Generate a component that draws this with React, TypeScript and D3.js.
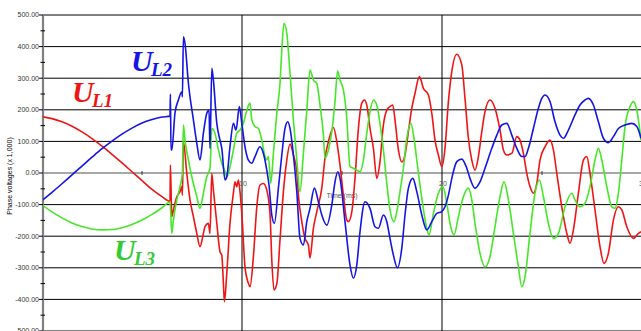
import * as d3 from 'd3';

// time axis (ms) and phase voltages (x 1,000) read from the recording
const tL1 = [0, 0.5, 1, 1.5, 2, 2.5, 3, 3.5, 4, 4.5, 5, 5.5, 6, 6.4, 6.42, 6.49, 6.57, 6.74, 6.9, 6.99, 7.02, 7.07, 7.24, 7.4, 7.57, 7.74, 7.9, 8.07, 8.15, 8.32, 8.4, 8.49, 8.57, 8.74, 8.9, 8.99, 9.07, 9.12, 9.24, 9.4, 9.57, 9.65, 9.74, 9.82, 9.9, 9.99, 10.15, 10.32, 10.4, 10.57, 10.74, 10.9, 11.07, 11.24, 11.4, 11.49, 11.6, 11.74, 11.9, 12.07, 12.24, 12.4, 12.57, 12.74, 12.82, 12.99, 13.15, 13.32, 13.4, 13.57, 13.74, 13.99, 14.15, 14.32, 14.57, 14.74, 14.9, 15.07, 15.24, 15.32, 15.49, 15.65, 15.82, 15.99, 16.12, 16.24, 16.4, 16.57, 16.74, 16.9, 17.07, 17.24, 17.4, 17.54, 17.65, 17.82, 17.99, 18.15, 18.32, 18.49, 18.65, 18.87, 19.07, 19.32, 19.49, 19.65, 19.82, 19.99, 20.15, 20.32, 20.49, 20.74, 20.99, 21.15, 21.32, 21.49, 21.65, 21.82, 21.99, 22.15, 22.4, 22.65, 22.9, 23.07, 23.24, 23.49, 23.74, 23.9, 24.07, 24.24, 24.4, 24.57, 24.74, 24.9, 25.15, 25.4, 25.57, 25.74, 25.99, 26.24, 26.4, 26.57, 26.82, 27.07, 27.24, 27.4, 27.65, 27.9, 28.1, 28.32, 28.57, 28.82, 28.99, 29.24, 29.57, 29.82, 29.95];
const uL1 = [178, 172, 162, 148, 130, 109, 85, 59, 32, 4, -24, -52, -75, -90, 25, -138, -117, -75, -59, -43, -70, 99, -1, -85, -138, -191, -233, -191, -170, -159, -191, -1, -54, -159, -249, -260, -349, -407, -317, -159, -64, -28, -43, -22, -59, -128, -297, -349, -360, -265, -107, -38, -33, -54, -128, -275, -370, -351, -212, -59, 41, 92, 57, 4, -70, -154, -207, -228, -269, -175, -122, -48, 47, 99, 144, 99, 25, -70, -149, -154, -123, -17, 141, 221, 231, 215, 141, 78, -17, 36, 152, 199, 210, 215, 168, 73, 35, 57, 131, 205, 252, 305, 268, 247, 189, 104, 57, 20, 78, 226, 321, 376, 342, 236, 110, 41, 9, 52, 131, 194, 231, 205, 136, 73, 57, 62, 115, 104, 62, -1, -43, -64, -33, 41, 83, 104, 73, -1, -107, -191, -222, -180, -64, 41, 52, -1, -117, -233, -286, -254, -149, -107, -117, -170, -207, -191, -186];

const tL2 = [0, 0.5, 1, 1.5, 2, 2.5, 3, 3.5, 4, 4.5, 5, 5.5, 6, 6.4, 6.42, 6.45, 6.49, 6.65, 6.82, 6.99, 7.02, 7.07, 7.15, 7.32, 7.57, 7.74, 7.9, 8.07, 8.24, 8.35, 8.4, 8.49, 8.57, 8.74, 8.9, 8.99, 9.15, 9.24, 9.4, 9.57, 9.7, 9.87, 9.99, 10.15, 10.32, 10.49, 10.65, 10.9, 11.07, 11.24, 11.35, 11.49, 11.62, 11.82, 11.99, 12.15, 12.29, 12.4, 12.57, 12.74, 12.9, 13.07, 13.24, 13.4, 13.62, 13.82, 13.99, 14.24, 14.49, 14.65, 14.79, 14.9, 15.15, 15.4, 15.57, 15.74, 15.9, 16.15, 16.4, 16.65, 16.82, 17.07, 17.24, 17.4, 17.57, 17.77, 17.99, 18.15, 18.32, 18.54, 18.74, 18.99, 19.24, 19.49, 19.74, 19.99, 20.15, 20.32, 20.49, 20.74, 20.99, 21.24, 21.4, 21.65, 21.9, 22.15, 22.49, 22.74, 22.99, 23.24, 23.49, 23.74, 23.99, 24.15, 24.32, 24.57, 24.82, 24.99, 25.15, 25.4, 25.65, 25.9, 26.07, 26.32, 26.65, 26.9, 27.15, 27.32, 27.57, 27.82, 28.07, 28.32, 28.57, 28.82, 29.15, 29.49, 29.74, 29.95];
const uL2 = [-87, -61, -34, -6, 22, 50, 77, 101, 123, 142, 158, 169, 177, 180, 250, 73, 73, 190, 231, 257, 241, 431, 410, 284, 168, 94, 41, 126, 189, 199, 78, 331, 294, 157, 104, 78, -22, -12, 83, 157, 136, 210, 157, 83, 41, 31, 52, 83, 62, 9, -38, -133, -159, -48, 57, 141, 162, 141, 57, -59, -207, -228, -154, -112, -48, -91, -133, -165, -101, -28, 4, -17, -154, -291, -333, -291, -186, -91, -112, -170, -175, -133, -154, -207, -260, -300, -238, -133, -48, -17, -59, -133, -180, -154, -128, -122, -107, -70, -17, 36, 44, 15, -17, -48, -28, 15, 78, 120, 152, 157, 120, 78, 52, 52, 78, 141, 205, 236, 247, 226, 162, 120, 110, 136, 184, 215, 231, 236, 215, 162, 110, 96, 115, 141, 152, 157, 147, 110];

const tL3 = [0, 0.5, 1, 1.5, 2, 2.5, 3, 3.5, 4, 4.5, 5, 5.5, 6, 6.4, 6.49, 6.57, 6.74, 6.9, 7.02, 7.07, 7.15, 7.32, 7.49, 7.74, 7.9, 8.07, 8.24, 8.4, 8.49, 8.65, 8.82, 8.99, 9.15, 9.24, 9.4, 9.57, 9.74, 9.9, 10.07, 10.2, 10.4, 10.49, 10.65, 10.82, 10.99, 11.15, 11.24, 11.32, 11.44, 11.57, 11.74, 11.9, 11.99, 12.1, 12.24, 12.4, 12.57, 12.74, 12.9, 13.07, 13.24, 13.4, 13.57, 13.74, 13.9, 14.07, 14.15, 14.32, 14.49, 14.65, 14.78, 14.9, 15.07, 15.24, 15.4, 15.57, 15.74, 15.9, 16.07, 16.24, 16.4, 16.57, 16.74, 16.9, 17.07, 17.24, 17.4, 17.6, 17.74, 17.9, 18.07, 18.24, 18.44, 18.6, 18.77, 18.99, 19.24, 19.35, 19.57, 19.82, 20.04, 20.24, 20.4, 20.6, 20.82, 21.07, 21.32, 21.49, 21.65, 21.9, 22.15, 22.4, 22.65, 22.9, 23.1, 23.32, 23.57, 23.82, 23.99, 24.15, 24.4, 24.65, 24.87, 25.07, 25.32, 25.57, 25.82, 26.15, 26.49, 26.65, 26.9, 27.15, 27.4, 27.65, 27.82, 27.99, 28.24, 28.49, 28.65, 28.82, 28.99, 29.15, 29.4, 29.57, 29.74, 29.95];
const uL3 = [-101, -123, -142, -158, -169, -177, -180, -179, -173, -163, -149, -131, -110, -92, -191, -149, -85, -43, -1, 152, 104, 41, -12, -75, -112, -64, -12, 15, 141, 126, 73, 31, 4, -12, 20, 73, 126, 136, 157, 189, 221, 168, 147, 141, 104, 52, 41, 52, -33, 62, 189, 284, 389, 474, 442, 316, 168, 41, -59, 62, 199, 326, 294, 284, 215, 120, 47, 73, 131, 226, 323, 294, 263, 173, 20, 15, 9, 4, 41, 126, 194, 231, 215, 157, 73, -33, -117, -154, -122, -59, 15, 110, 157, 110, 25, -80, -175, -196, -128, -64, -43, -96, -159, -196, -138, -75, -48, -85, -159, -254, -297, -265, -170, -75, -28, -85, -191, -297, -360, -329, -191, -64, -22, -75, -159, -207, -191, -107, -64, -85, -107, -96, -43, 41, 78, 41, -43, -107, -112, -64, 41, 147, 210, 226, 199, 104];

const yTicks = [500, 400, 300, 200, 100, 0, -100, -200, -300, -400, -500];
const yMinor = [450, 350, 250, 150, 50, -50, -150, -250, -350, -450];
const xTicks = [10, 20, 30];
const xMinor = [5, 15, 25];

const W = 641;
const H = 331;
const RED = '#f01414';
const BLUE = '#1414e6';
const GREEN = '#46e628';

// phase name labels: main letter + subscript drawn as separate texts
const phaseLabels = [
  { id: 'L1', color: RED, x: 72, y: 102 },
  { id: 'L2', color: BLUE, x: 131, y: 71 },
  { id: 'L3', color: '#33cc33', x: 114, y: 260 },
];

export default function App() {
  const x = d3.scaleLinear().domain([0, 30]).range([42, 642]);
  const y = d3.scaleLinear().domain([-500, 500]).range([331, 15]);

  const line = d3
    .line<[number, number]>()
    .x((d) => x(d[0]))
    .y((d) => y(d[1]))
    .curve(d3.curveMonotoneX);

  const zip = (t: number[], v: number[]) => t.map((tt, i) => [tt, v[i]] as [number, number]);

  const series = [
    { id: 'L1', color: RED, path: line(zip(tL1, uL1)) },
    { id: 'L3', color: GREEN, path: line(zip(tL3, uL3)) },
    { id: 'L2', color: BLUE, path: line(zip(tL2, uL2)) },
  ];

  const x0 = x(0) + 1;

  return (
    <svg
      width={W}
      height={H}
      style={{ position: 'fixed', left: 0, top: 0, background: '#fff' }}
      fontFamily="'Liberation Sans', Arial, sans-serif"
    >
      {/* horizontal grid */}
      {yTicks.map((v) => (
        <line
          key={'g' + v}
          x1={x0}
          x2={W}
          y1={y(v)}
          y2={y(v)}
          stroke={v === 0 ? '#8a8a8a' : '#000'}
          strokeWidth={v === 0 ? 1.6 : 1}
        />
      ))}
      {/* vertical grid */}
      {xTicks.map((t) => (
        <line key={'v' + t} x1={x(t)} x2={x(t)} y1={y(500)} y2={H} stroke="#000" strokeWidth={1} />
      ))}
      {/* minor time ticks on the zero line */}
      {xMinor.map((t) => (
        <line key={'xm' + t} x1={x(t)} x2={x(t)} y1={y(0) - 2} y2={y(0) + 2} stroke="#333" strokeWidth={1} />
      ))}

      {/* y axis */}
      <line x1={x0} x2={x0} y1={y(500)} y2={H} stroke="#808080" strokeWidth={2.2} />
      {yTicks.map((v) => (
        <line key={'t' + v} x1={39} x2={x0} y1={y(v)} y2={y(v)} stroke="#000" strokeWidth={1} />
      ))}
      {yMinor.map((v) => (
        <line key={'m' + v} x1={40.5} x2={45} y1={y(v)} y2={y(v)} stroke="#000" strokeWidth={1} />
      ))}
      {yTicks.map((v) => (
        <text key={'l' + v} x={39} y={y(v)} dy="0.35em" textAnchor="end" fontSize={7} fill="#333">
          {v.toFixed(2)}
        </text>
      ))}
      <text
        transform={`translate(12,${(y(500) + H) / 2 + 3}) rotate(-90)`}
        textAnchor="middle"
        fontSize={7}
        fill="#000"
      >
        Phase voltages (x 1,000)
      </text>

      {/* x labels */}
      {xTicks.map((t) => (
        <text key={'xl' + t} x={x(t) + 1} y={y(0) + 13} textAnchor="middle" fontSize={7} fill="#555">
          {t}
        </text>
      ))}
      <text x={x(15)} y={y(0) + 25} textAnchor="middle" fontSize={7} fill="#555">
        Time (ms)
      </text>

      <clipPath id="plot">
        <rect x={x0} y={0} width={W - x0} height={H} />
      </clipPath>
      <g clipPath="url(#plot)">
        {series.map((s) => (
          <path key={s.id} d={s.path ?? ''} fill="none" stroke={s.color} strokeWidth={1.6} strokeLinejoin="round" />
        ))}
      </g>

      {/* phase labels */}
      <g fontFamily="'Liberation Serif', 'Times New Roman', serif" fontWeight="bold" fontStyle="italic">
        {phaseLabels.map((p) => (
          <g key={p.id} fill={p.color}>
            <text x={p.x} y={p.y} fontSize={30}>
              U
            </text>
            <text x={p.x + 20} y={p.y + 5} fontSize={19}>
              {p.id}
            </text>
          </g>
        ))}
      </g>
    </svg>
  );
}
